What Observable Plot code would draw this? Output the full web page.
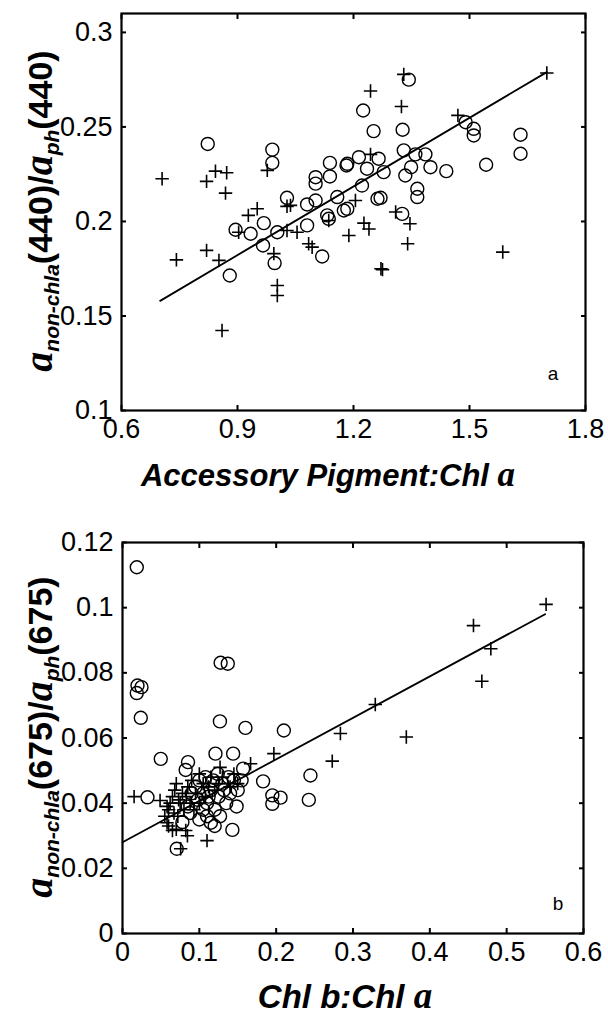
<!DOCTYPE html>
<html>
<head>
<meta charset="utf-8">
<script src="https://cdn.jsdelivr.net/npm/d3@7"></script>
<script src="https://cdn.jsdelivr.net/npm/@observablehq/plot@0.6"></script>
<style>
  body { margin: 0; background: #fff; }
  #fig { width: 608px; }
  #fig svg { display: block; }
</style>
</head>
<body>
<div id="fig"></div>
<script>
// ---- Panel a: accessory pigment ratio vs. non-chl a share of a_ph(440) ----
const aCircleX = [0.823,0.990,0.990,1.028,1.102,1.102,1.102,1.080,1.139,1.139,1.182,1.158,1.175,1.132,
  1.343,1.225,1.252,1.327,1.490,1.511,1.511,1.632,1.632,1.543,1.330,1.360,1.386,1.349,1.399,1.440,1.334,
  1.214,1.184,1.235,1.265,1.278,1.222,1.184,1.262,1.270,1.365,1.365,1.326,0.880,0.895,0.934,0.968,0.966,
  0.996,1.003,1.080,1.119,1.136];
const aCircleY = [0.241,0.238,0.231,0.2125,0.2234,0.220,0.2111,0.209,0.231,0.2238,0.2296,0.2129,0.2058,0.2032,
  0.275,0.2587,0.2478,0.2485,0.2525,0.249,0.2455,0.2459,0.2358,0.230,0.2376,0.2355,0.2355,0.2287,0.2287,0.2266,0.2243,
  0.234,0.2305,0.2279,0.2332,0.2261,0.219,0.2067,0.212,0.2125,0.2173,0.2129,0.204,0.1714,0.1956,0.1935,0.1991,0.1873,
  0.178,0.1943,0.1979,0.1815,0.2014];
const aPlusX = [0.705,0.820,0.843,0.872,0.869,0.977,1.028,0.928,0.951,1.330,1.244,1.324,1.470,1.700,1.244,1.205,
  1.309,1.346,1.340,1.227,1.240,1.188,1.271,1.275,1.586,0.742,0.820,0.852,0.860,0.903,0.994,1.003,1.003,1.028,
  1.054,1.037,1.084,1.093,1.136];
const aPlusY = [0.2226,0.2212,0.2266,0.2258,0.215,0.227,0.208,0.2032,0.2067,0.2778,0.269,0.2608,0.2561,0.2785,0.2355,0.2111,
  0.205,0.1988,0.1882,0.1991,0.196,0.1926,0.175,0.1745,0.1838,0.1797,0.1847,0.1794,0.1423,0.1943,0.183,0.1661,0.1608,0.1952,
  0.1943,0.2085,0.1882,0.1864,0.2005];
const aFitX = [0.70, 1.70];
const aFitY = [0.158, 0.279];
const aTicksX = [0.6, 0.9, 1.2, 1.5, 1.8];
const aTicksY = [0.1, 0.15, 0.2, 0.25, 0.3];

// ---- Panel b: Chl b:Chl a vs. non-chl a share of a_ph(675) ----
const bCircleX = [0.0186,0.1277,0.137,0.0195,0.0247,0.0186,0.0238,0.1268,0.160,0.210,0.0498,0.0853,0.0822,0.121,0.144,
  0.157,0.183,0.195,0.2057,0.195,0.2446,0.2425,0.0325,0.0706,0.078,0.143,0.1485,
  0.095,0.100,0.105,0.110,0.115,0.120,0.125,0.130,0.135,0.140,0.110,0.115,0.120,0.105,0.098,0.090,0.085,0.127,0.132,
  0.145,0.150,0.108,0.118,0.100,0.088,0.112,0.124,0.138,0.155];
const bCircleY = [0.1124,0.0831,0.0828,0.0761,0.0756,0.0738,0.0662,0.0651,0.0631,0.0623,0.0536,0.0526,0.0502,0.0552,0.0552,
  0.0506,0.0467,0.0424,0.0417,0.0398,0.0485,0.041,0.0418,0.026,0.0342,0.0318,0.039,
  0.045,0.047,0.043,0.040,0.044,0.038,0.042,0.046,0.040,0.043,0.036,0.034,0.033,0.038,0.041,0.043,0.039,0.036,0.044,
  0.047,0.044,0.048,0.047,0.035,0.037,0.042,0.049,0.048,0.047];
const bPlusX = [0.5513,0.4568,0.4794,0.4677,0.329,0.3694,0.2836,0.273,0.197,0.1667,0.127,0.0151,0.0489,0.0757,0.0823,
  0.0845,0.065,0.110,
  0.055,0.058,0.060,0.062,0.065,0.068,0.070,0.072,0.075,0.078,0.080,0.083,0.085,0.088,0.090,0.093,0.095,0.100,0.105,
  0.108,0.112,0.115,0.120,0.125,0.130,0.140,0.145,0.150,0.058,0.067,0.073,0.100,0.060,0.070];
const bPlusY = [0.101,0.0945,0.0874,0.0774,0.0703,0.0603,0.0614,0.0529,0.0552,0.0521,0.051,0.042,0.0408,0.026,0.0316,
  0.030,0.0316,0.0285,
  0.036,0.034,0.038,0.040,0.042,0.044,0.046,0.036,0.040,0.043,0.038,0.042,0.045,0.040,0.047,0.038,0.043,0.040,0.046,
  0.042,0.045,0.048,0.044,0.046,0.048,0.045,0.049,0.046,0.039,0.037,0.041,0.049,0.033,0.032];
const bFitX = [0.0, 0.55];
const bFitY = [0.028, 0.098];
const bTicksX = [0, 0.1, 0.2, 0.3, 0.4, 0.5, 0.6];
const bTicksY = [0, 0.02, 0.04, 0.06, 0.08, 0.1, 0.12];

const pts = (xs, ys) => xs.map((x, i) => ({x, y: ys[i]}));
const fmt = d => d3.format("~g")(d);

const SANS = "'Liberation Sans', Arial, sans-serif";
const SERIF = "'Liberation Serif', 'Times New Roman', serif";

function panel({xDomain, yDomain, xTicks, yTicks, circles, pluses, fit, height, margins}) {
  const tick = 5;
  return Plot.plot({
    width: 608,
    height,
    ...margins,
    x: {domain: xDomain},
    y: {domain: yDomain},
    style: {fontFamily: SANS, fontSize: "27px", color: "#000", background: "#fff"},
    marks: [
      // tick marks pointing into the frame on all four sides
      Plot.axisX(xTicks, {anchor: "bottom", tickSize: tick, dy: -tick, tickFormat: () => "", label: null, strokeWidth: 2}),
      Plot.axisX(xTicks, {anchor: "top", tickSize: tick, dy: tick, tickFormat: () => "", label: null, strokeWidth: 2}),
      Plot.axisY(yTicks, {anchor: "left", tickSize: tick, dx: tick, tickFormat: () => "", label: null, strokeWidth: 2}),
      Plot.axisY(yTicks, {anchor: "right", tickSize: tick, dx: -tick, tickFormat: () => "", label: null, strokeWidth: 2}),
      // tick labels
      Plot.axisX(xTicks, {anchor: "bottom", tickSize: 0, tickPadding: 8, tickFormat: fmt, label: null, fill: "#000"}),
      Plot.axisY(yTicks, {anchor: "left", tickSize: 0, tickPadding: 9, tickFormat: fmt, label: null, fill: "#000"}),
      Plot.frame({stroke: "#000", strokeWidth: 2.2}),
      Plot.line(pts(fit.x, fit.y), {x: "x", y: "y", stroke: "#000", strokeWidth: 1.8}),
      Plot.dot(circles, {x: "x", y: "y", r: 6.5, symbol: "circle", stroke: "#000", strokeWidth: 1.4, fill: "none"}),
      Plot.dot(pluses, {x: "x", y: "y", r: 4.4, symbol: "plus", stroke: "#000", strokeWidth: 1.6})
    ]
  });
}

// Rotated y title: a_{non-chla}(λ)/a_{ph}(λ)
function yTitle(svg, cx, cy, wl) {
  const t = d3.select(svg).append("text")
    .attr("transform", `translate(${cx},${cy}) rotate(-90)`)
    .attr("text-anchor", "middle")
    .attr("fill", "#000")
    .attr("font-family", SANS)
    .attr("font-weight", "bold")
    .attr("font-size", 34);
  t.append("tspan").attr("font-family", SERIF).attr("font-style", "italic").attr("font-size", 40).text("a");
  t.append("tspan").attr("font-style", "italic").attr("font-size", 21).attr("dy", 7).text("non-chla");
  t.append("tspan").attr("dy", -7).text(`(${wl})/`);
  t.append("tspan").attr("font-family", SERIF).attr("font-style", "italic").attr("font-size", 40).text("a");
  t.append("tspan").attr("font-style", "italic").attr("font-size", 21).attr("dy", 7).text("ph");
  t.append("tspan").attr("dy", -7).text(`(${wl})`);
}

// x title in bold italic sans with a serif italic "a"
function xTitle(svg, cx, y, size, parts) {
  const t = d3.select(svg).append("text")
    .attr("x", cx).attr("y", y)
    .attr("text-anchor", "middle")
    .attr("fill", "#000")
    .attr("font-family", SANS)
    .attr("font-weight", "bold")
    .attr("font-style", "italic")
    .attr("font-size", size);
  for (const [s, serif] of parts) {
    const ts = t.append("tspan").text(s);
    if (serif) ts.attr("font-family", SERIF).attr("font-size", size + 4);
  }
}

function tag(svg, x, y, s) {
  d3.select(svg).append("text").attr("x", x).attr("y", y)
    .attr("text-anchor", "middle").attr("font-family", SANS)
    .attr("font-size", 19).attr("fill", "#000").text(s);
}

const fig = document.getElementById("fig");

const svgA = panel({
  xDomain: [0.6, 1.8], yDomain: [0.1, 0.31],
  xTicks: aTicksX, yTicks: aTicksY,
  circles: pts(aCircleX, aCircleY), pluses: pts(aPlusX, aPlusY),
  fit: {x: aFitX, y: aFitY},
  height: 509,
  margins: {marginTop: 13, marginBottom: 99, marginLeft: 121, marginRight: 23}
});
yTitle(svgA, 52, 211, 440);
xTitle(svgA, 328, 486, 31, [["Accessory Pigment:Chl ", false], ["a", true]]);
tag(svgA, 553, 380, "a");
fig.appendChild(svgA);

const svgB = panel({
  xDomain: [0, 0.6], yDomain: [0, 0.12],
  xTicks: bTicksX, yTicks: bTicksY,
  circles: pts(bCircleX, bCircleY), pluses: pts(bPlusX, bPlusY),
  fit: {x: bFitX, y: bFitY},
  height: 509,
  margins: {marginTop: 33, marginBottom: 85, marginLeft: 122, marginRight: 25}
});
yTitle(svgB, 52, 228, 675);
xTitle(svgB, 345, 499, 33, [["Chl b:Chl ", false], ["a", true]]);
tag(svgB, 558, 401, "b");
fig.appendChild(svgB);
</script>
</body>
</html>
